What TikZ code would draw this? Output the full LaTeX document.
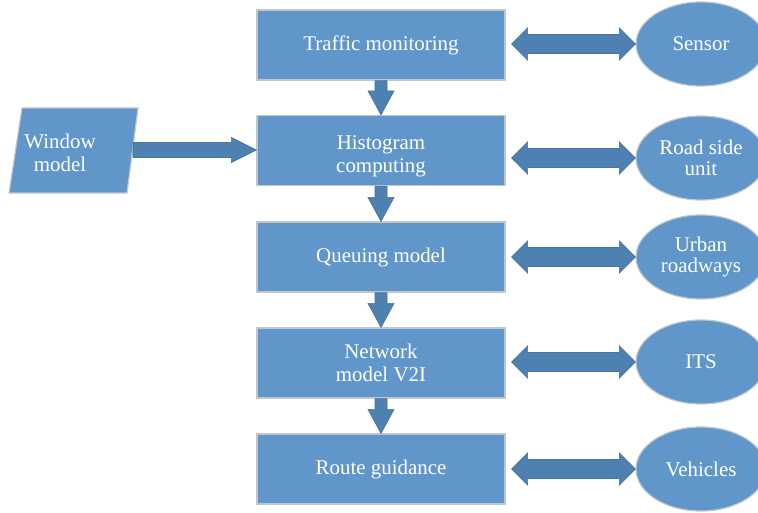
\documentclass[tikz,border=0pt]{standalone}
\usepackage{fontspec}
\setmainfont{Liberation Serif}
\usetikzlibrary{calc,shapes.geometric}
\definecolor{boxblue}{RGB}{96,150,202}
\definecolor{arrblue}{RGB}{78,128,178}
\definecolor{arrline}{RGB}{70,115,160}
\definecolor{edgegray}{RGB}{190,198,206}
\tikzset{
  procbox/.style={draw=edgegray, line width=0.9pt, fill=boxblue, minimum width=186pt, minimum height=52.5pt, inner sep=0pt, text=white, align=center, font=\fontsize{15.7}{17.5}\selectfont},
  sidebox/.style={ellipse, draw=edgegray, line width=0.9pt, fill=boxblue, minimum width=97.5pt, minimum height=63pt, inner sep=0pt, text=white, align=center, font=\fontsize{15.7}{16}\selectfont},
  conn/.style={fill=arrblue, draw=arrline, line width=0.5pt, line join=miter},
  plainlabel/.style={text=white, align=center, font=\fontsize{15.7}{17.5}\selectfont, inner sep=0pt}
}
\newcommand\dblarr[2]{%
  \coordinate (L) at ($(#1.east|-#2.center)+(6,0)$);
  \coordinate (R) at (#2.west);
  \filldraw[conn] (L) -- ($(L)+(16,-16)$) -- ($(L)+(16,-9.5)$) -- ($(R)+(-16,-9.5)$) -- ($(R)+(-16,-16)$) -- (R) -- ($(R)+(-16,16)$) -- ($(R)+(-16,9.5)$) -- ($(L)+(16,9.5)$) -- ($(L)+(16,16)$) -- cycle;}
\newcommand\downarr[2]{%
  \coordinate (S) at (#1.south);
  \coordinate (T) at (#2.north);
  \filldraw[conn] ($(S)+(-6,0)$) -- ($(T)+(-6,-24)$) -- ($(T)+(-13,-24)$) -- (T) -- ($(T)+(13,-24)$) -- ($(T)+(6,-24)$) -- ($(S)+(6,0)$) -- cycle;}
\begin{document}
\begin{tikzpicture}[x=0.75pt,y=-0.75pt]
\useasboundingbox (0,0) rectangle (758,513);
% side ellipses
\node[sidebox] (e1) at (701,44) {Sensor};
\node[sidebox] (e2) at (701,158) {Road side\\unit};
\node[sidebox] (e3) at (701,257) {Urban\\roadways};
\node[sidebox] (e4) at (701,362) {ITS};
\node[sidebox] (e5) at (701,469) {Vehicles};
% main boxes
\node[procbox] (b1) at (381,45) {Traffic monitoring};
\node[procbox] (b2) at (381,150.5) {};
\node[plainlabel] (t2) at (381,156) {Histogram\\computing};
\node[procbox] (b3) at (381,257) {Queuing model};
\node[procbox] (b4) at (381,363) {Network\\model V2I};
\node[procbox] (b5) at (381,469) {Route guidance};
% window model parallelogram
\coordinate (p1) at (22,108);
\coordinate (p2) at (138,108);
\coordinate (p3) at (127,193);
\coordinate (p4) at (9,193);
\filldraw[draw=edgegray, line width=0.9pt, fill=boxblue] (p1) -- (p2) -- (p3) -- (p4) -- cycle;
\node[plainlabel] (w) at (60,153) {Window\\model};
\coordinate (wr) at (133,150);
% window arrow
\coordinate (WT) at (b2.west|-wr);
\filldraw[conn] ($(wr)+(0,-7.5)$) -- ($(WT)+(-25,-7.5)$) -- ($(WT)+(-25,-12.5)$) -- (WT) -- ($(WT)+(-25,12.5)$) -- ($(WT)+(-25,7.5)$) -- ($(wr)+(0,7.5)$) -- cycle;
% down arrows
\downarr{b1}{b2}
\downarr{b2}{b3}
\downarr{b3}{b4}
\downarr{b4}{b5}
% double arrows
\dblarr{b1}{e1}
\dblarr{b2}{e2}
\dblarr{b3}{e3}
\dblarr{b4}{e4}
\dblarr{b5}{e5}
\end{tikzpicture}
\end{document}
